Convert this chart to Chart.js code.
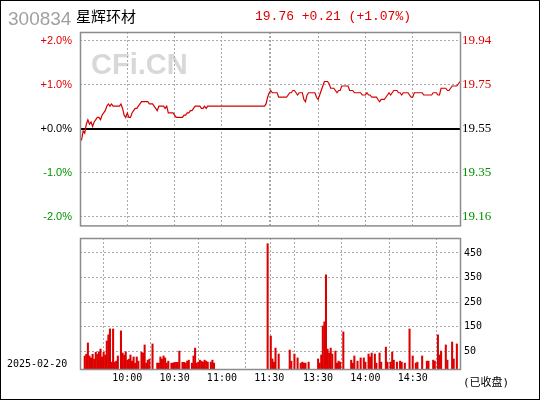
<!DOCTYPE html>
<html>
<head>
<meta charset="utf-8">
<script src="https://cdn.jsdelivr.net/npm/chart.js@4.4.1/dist/chart.umd.min.js"></script>
<style>
  body { margin: 0; background: #fff; }
  #wrap { position: relative; width: 540px; height: 400px; overflow: hidden; background: #fff; }
  #frame { position: absolute; left: 0; top: 0; width: 538px; height: 398px; border: 1px solid #000; pointer-events: none; }
  canvas { position: absolute; left: 0; }
  .txt { position: absolute; white-space: nowrap; line-height: 1; }
</style>
</head>
<body>
<div id="wrap">
  <canvas id="priceChart" width="540" height="240" style="top:0"></canvas>
  <canvas id="volChart" width="540" height="172" style="top:228px"></canvas>
  <div class="txt" id="code" style="left:8px;top:8px;font:19px 'Liberation Sans',Arial;color:#a0a0a0"></div>
  <div class="txt" id="name" style="left:76px;top:5px;font:15px 'Noto Sans CJK SC';color:#000"></div>
  <div class="txt" id="quote" style="left:255px;top:9px;font:13px 'Liberation Mono',monospace;color:#e00000"></div>
  <div class="txt" id="date" style="left:7px;top:358px;font:10px 'DejaVu Sans Mono',monospace;color:#000"></div>
  <div class="txt" id="closed" style="left:463px;top:373px;font:11px 'DejaVu Sans Mono','Noto Sans CJK SC',monospace;color:#000"></div>
  <div id="frame"></div>
</div>
<script>
// Data

const stockCode = '300834';
const stockName = '星辉环材';
const tradeDate = '2025-02-20';
const closedText = '(已收盘)';
const prevClose = 19.55;
const lastPrice = 19.76;
const priceChange = 0.21;
const changePct = 1.07;

const pctLevels = [2, 1, 0, -1, -2];
const pctLabels = ['+2.0%', '+1.0%', '+0.0%', '-1.0%', '-2.0%'];
const priceLabels = ['19.94', '19.75', '19.55', '19.35', '19.16'];

const timeTicks = [30, 60, 90, 120, 121, 151, 181, 211];
const timeLabels = ['10:00', '10:30', '11:00', '11:30', '', '13:30', '14:00', '14:30'];

const volTicks = [50, 150, 250, 350, 450];

// one price per minute, 9:30-11:30 then 13:00-15:00
const prices = [
  19.50,19.50,19.54,19.53,19.57,19.59,19.57,19.58,19.56,19.58,
  19.59,19.60,19.60,19.59,19.61,19.62,19.63,19.65,19.66,19.65,
  19.66,19.65,19.65,19.65,19.65,19.65,19.66,19.64,19.61,19.60,
  19.62,19.60,19.60,19.62,19.63,19.64,19.64,19.65,19.66,19.67,
  19.67,19.67,19.67,19.67,19.66,19.66,19.66,19.65,19.64,19.63,
  19.65,19.65,19.65,19.65,19.64,19.65,19.62,19.62,19.62,19.62,
  19.61,19.60,19.60,19.60,19.60,19.60,19.61,19.61,19.62,19.62,
  19.63,19.63,19.64,19.65,19.65,19.65,19.65,19.64,19.64,19.65,
  19.64,19.65,19.65,19.65,19.65,19.65,19.65,19.65,19.65,19.65,
  19.65,19.65,19.65,19.65,19.65,19.65,19.65,19.65,19.65,19.65,
  19.65,19.65,19.65,19.65,19.65,19.65,19.65,19.65,19.65,19.65,
  19.65,19.65,19.65,19.65,19.65,19.65,19.65,19.65,19.66,19.69,
  19.71,19.72,19.71,19.71,19.71,19.71,19.69,19.69,19.69,19.69,
  19.69,19.69,19.70,19.71,19.71,19.72,19.72,19.71,19.70,19.71,
  19.71,19.71,19.68,19.67,19.70,19.71,19.71,19.71,19.71,19.71,
  19.69,19.68,19.70,19.72,19.74,19.76,19.76,19.76,19.75,19.73,
  19.73,19.73,19.72,19.71,19.72,19.72,19.74,19.74,19.74,19.74,
  19.74,19.72,19.72,19.72,19.71,19.71,19.71,19.71,19.71,19.70,
  19.70,19.70,19.71,19.70,19.70,19.69,19.69,19.69,19.69,19.68,
  19.67,19.68,19.68,19.68,19.69,19.70,19.71,19.70,19.71,19.72,
  19.72,19.72,19.71,19.71,19.70,19.71,19.71,19.71,19.71,19.70,
  19.69,19.69,19.71,19.71,19.71,19.71,19.71,19.71,19.70,19.70,
  19.70,19.70,19.70,19.70,19.71,19.71,19.71,19.70,19.70,19.73,
  19.73,19.73,19.73,19.72,19.72,19.73,19.74,19.74,19.74,19.74,
  19.75,19.76
];

// minutes that traded, and their volume (axis units)
const volMinutes = [
  3,4,5,6,7,8,9,10,11,12,13,14,15,16,17,18,19,20,21,22,23,24,26,27,28,29,
  30,31,32,33,34,35,36,37,39,40,41,42,43,44,46,49,50,51,52,53,54,55,56,58,
  59,60,61,62,63,65,66,67,68,69,71,72,73,74,75,76,77,78,79,80,81,83,84,85,
  119,121,122,123,124,126,133,134,136,138,140,141,142,143,145,151,152,153,
  154,155,156,157,158,159,160,162,163,164,165,167,172,173,174,176,178,180,
  181,183,184,185,187,188,190,191,194,195,197,198,199,201,203,204,206,209,
  211,213,214,217,220,221,224,225,227,228,229,232,233,236,237,239
];
const volValues = [
  31,38,84,31,23,38,18,46,38,48,59,27,46,35,92,117,141,6,141,6,10,31,133,43,35,48,
  14,18,35,10,27,2,27,10,46,43,76,2,14,18,80,2,2,27,18,31,23,2,10,2,
  2,5,5,5,51,5,5,2,10,14,2,31,63,2,6,14,10,6,14,10,6,6,14,2,
  488,112,19,6,63,39,55,10,39,23,2,6,2,2,6,19,2,35,
  153,170,361,59,43,63,39,51,2,10,6,129,14,2,31,10,23,23,
  6,39,27,43,39,2,43,6,67,6,6,47,14,6,10,6,2,141,
  31,2,6,31,10,10,14,10,117,35,51,76,14,88,19,80
];

// Setup

const RED = '#e00000';
const GREEN = '#009000';
const LINE_RED = '#d40000';
const GRID = '#a8a8a8';
const lastIdx = prices.length - 1;
const priceMin = prevClose * (1 - 0.022);
const priceMax = prevClose * (1 + 0.022);
const volMin = -22;
const volMax = 511;

document.querySelector('#code').textContent = stockCode;
document.querySelector('#name').textContent = stockName;
document.querySelector('#quote').textContent =
  lastPrice.toFixed(2) + ' +' + priceChange.toFixed(2) + ' (+' + changePct.toFixed(2) + '%)';
document.querySelector('#date').textContent = tradeDate;
document.querySelector('#closed').textContent = closedText;

function levelColor(i) {
  if (pctLevels[i] > 0) return RED;
  if (pctLevels[i] < 0) return GREEN;
  return '#000';
}

const framePlugin = {
  id: 'frame',
  afterDraw(chart) {
    const a = chart.chartArea;
    const ctx = chart.ctx;
    ctx.save();
    ctx.strokeStyle = '#8c8c8c';
    ctx.lineWidth = 1.5;
    ctx.strokeRect(a.left + 0.5, a.top + 0.5, a.right - a.left, a.bottom - a.top);
    ctx.restore();
  }
};

const watermark = {
  id: 'watermark',
  beforeDraw(chart) {
    const ctx = chart.ctx;
    ctx.save();
    ctx.font = 'bold 29px "Liberation Sans", Arial';
    ctx.fillStyle = '#d8d8d8';
    ctx.textBaseline = 'middle';
    ctx.fillText('CFi.CN', 91, 66);
    ctx.restore();
  }
};

const xTimeAxis = (showLabels, height) => ({
  type: 'linear',
  min: 0,
  max: lastIdx,
  afterBuildTicks: (s) => { s.ticks = timeTicks.map(v => ({ value: v })); },
  afterFit: (s) => { s.height = height; },
  ticks: {
    display: showLabels,
    autoSkip: false,
    maxRotation: 0,
    padding: 3,
    color: '#000',
    font: { family: 'DejaVu Sans Mono', size: 10 },
    callback: (v) => timeLabels[timeTicks.indexOf(v)]
  },
  grid: { color: GRID, lineWidth: 1, drawTicks: false },
  border: { display: false, dash: [2, 2] }
});

// Price chart

new Chart(document.getElementById('priceChart'), {
  type: 'line',
  data: {
    datasets: [{
      data: prices.map((p, i) => ({ x: i, y: p })),
      borderColor: LINE_RED,
      borderWidth: 1.2,
      pointRadius: 0,
      tension: 0,
      yAxisID: 'yL'
    }]
  },
  options: {
    responsive: false,
    animation: false,
    events: [],
    layout: { padding: { top: 32, left: 0, right: 0, bottom: 0 } },
    plugins: { legend: { display: false }, tooltip: { enabled: false } },
    scales: {
      x: xTimeAxis(false, 13),
      yL: {
        position: 'left',
        min: priceMin,
        max: priceMax,
        afterBuildTicks: (s) => { s.ticks = pctLevels.map(p => ({ value: prevClose * (1 + p / 100) })); },
        afterFit: (s) => { s.width = 80; },
        ticks: {
          padding: 8,
          color: (c) => levelColor(c.index),
          font: { family: 'Liberation Sans', size: 11 },
          callback: (v, i) => pctLabels[i]
        },
        grid: {
          drawTicks: false,
          color: (c) => pctLevels[c.index] === 0 ? '#000' : GRID,
          lineWidth: (c) => pctLevels[c.index] === 0 ? 2 : 1
        },
        border: { display: false, dash: (c) => pctLevels[c.index] === 0 ? [] : [2, 2] }
      },
      yR: {
        position: 'right',
        min: priceMin,
        max: priceMax,
        afterBuildTicks: (s) => { s.ticks = pctLevels.map(p => ({ value: prevClose * (1 + p / 100) })); },
        afterFit: (s) => { s.width = 80; },
        ticks: {
          padding: 2,
          color: (c) => levelColor(c.index),
          font: { family: 'Liberation Serif', size: 13 },
          callback: (v, i) => priceLabels[i]
        },
        grid: { display: false, drawTicks: false },
        border: { display: false }
      }
    }
  },
  plugins: [watermark, framePlugin]
});

// Volume chart

new Chart(document.getElementById('volChart'), {
  type: 'bar',
  data: {
    datasets: [{
      data: volMinutes.map((m, i) => ({ x: m, y: volValues[i] })),
      backgroundColor: '#dd0000',
      barThickness: 1.4,
      base: volMin,
      yAxisID: 'y'
    }]
  },
  options: {
    responsive: false,
    animation: false,
    events: [],
    layout: { padding: { top: 10, left: 80, right: 0, bottom: 0 } },
    plugins: { legend: { display: false }, tooltip: { enabled: false } },
    scales: {
      x: Object.assign(xTimeAxis(true, 31), { offset: false }),
      y: {
        position: 'right',
        min: volMin,
        max: volMax,
        afterBuildTicks: (s) => { s.ticks = volTicks.map(v => ({ value: v })); },
        afterFit: (s) => { s.width = 80; },
        ticks: {
          padding: 4,
          color: '#000',
          font: { family: 'DejaVu Sans Mono', size: 10 },
          callback: (v) => String(v)
        },
        grid: { color: GRID, drawTicks: false },
        border: { display: false, dash: [2, 2] }
      }
    }
  },
  plugins: [framePlugin]
});
</script>
</body>
</html>
